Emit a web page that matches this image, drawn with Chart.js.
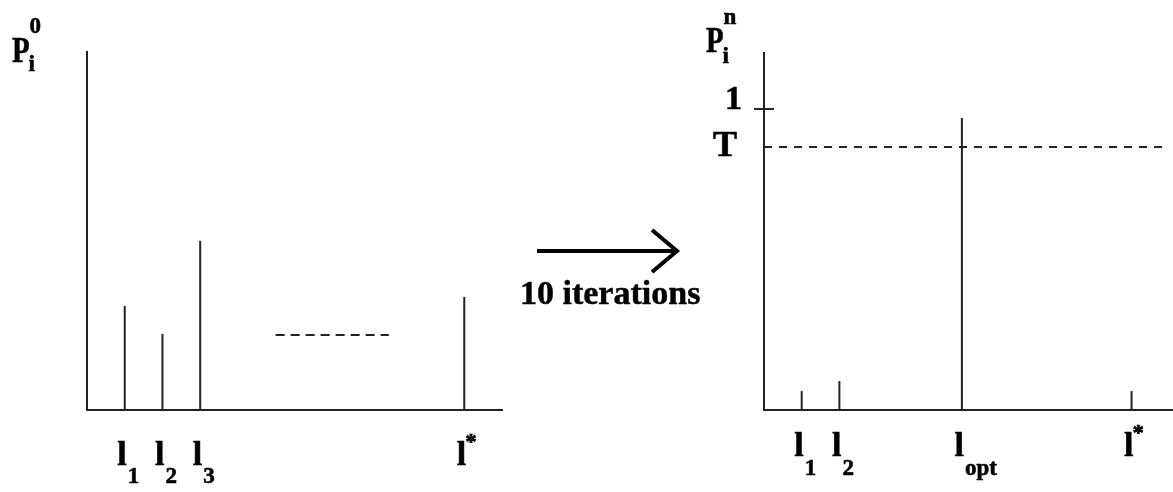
<!DOCTYPE html>
<html>
<head>
<meta charset="utf-8">
<script src="https://cdn.jsdelivr.net/npm/chart.js"></script>
<style>
  body { margin: 0; background: #fff; }
  #stage { position: relative; width: 1173px; height: 492px; overflow: hidden; }
  #stage canvas { position: absolute; left: 0; top: 0; }
  #iters { position: absolute; left: 520px; top: 276px; font: bold 34px "Liberation Serif", serif; line-height: 1; white-space: nowrap; color: #000; -webkit-text-stroke: 0.5px #000; }
  #arrow { position: absolute; left: 0; top: 0; }
</style>
</head>
<body>
<div id="stage">
  <canvas id="before" width="1173" height="492"></canvas>
  <canvas id="after" width="1173" height="492"></canvas>
  <svg id="arrow" width="1173" height="492">
    <line x1="537" y1="251" x2="676" y2="251" stroke="#000" stroke-width="4"/>
    <polyline points="652,230 677,251 652,272" fill="none" stroke="#000" stroke-width="4"/>
  </svg>
  <div id="iters">10 iterations</div>
</div>
<script>
// initial probabilities P_i^0
const leftPos = [1, 2, 3, 10];
const leftP = [0.349, 0.255, 0.567, 0.379];
const leftSub = ['1', '2', '3', ''];
const leftSup = ['', '', '', '*'];
const leftDots = [5, 8];
const leftDotsY = 0.251;

// probabilities after n iterations P_i^n
const rightPos = [1, 2, 5.25, 9.75];
const rightP = [0.063, 0.096, 0.97, 0.063];
const rightSub = ['1', '2', 'opt', ''];
const rightSup = ['', '', '', '*'];
const threshold = 0.874;
const thresholdEnd = 10.64;

const ink = '#222';
const mainFont = 'bold 34px "Liberation Serif", serif';
const bigFont = 'bold 36px "Liberation Serif", serif';
const subFont = 'bold 23px "Liberation Serif", serif';

// filled + thin outline so the bold text reads heavier
function heavyText(ctx, s, x, y) {
  ctx.fillText(s, x, y);
  ctx.strokeText(s, x, y);
}

function stems(pos, vals) {
  return pos.map((p, i) => ({
    data: [{x: p, y: 0}, {x: p, y: vals[i]}],
    showLine: true, borderColor: ink, borderWidth: 2, pointRadius: 0
  }));
}

function axes(xMax, yMax) {
  const ax = (max) => ({
    type: 'linear', min: 0, max: max,
    grid: {display: false, drawTicks: false},
    ticks: {display: false},
    border: {display: true, color: ink, width: 2}
  });
  return {x: ax(xMax), y: ax(yMax)};
}

// "l" with subscript / superscript under each stem
function stemLabels(pos, subs, sups, baseY, subY) {
  return {
    id: 'stemLabels',
    afterDraw(chart) {
      const ctx = chart.ctx;
      const xs = chart.scales.x;
      ctx.save();
      ctx.fillStyle = '#000';
      ctx.strokeStyle = '#000';
      ctx.lineWidth = 0.6;
      pos.forEach((p, i) => {
        const px = xs.getPixelForValue(p);
        ctx.font = mainFont;
        ctx.textAlign = 'right';
        heavyText(ctx, 'l', px + 2, baseY);
        ctx.textAlign = 'left';
        ctx.font = subFont;
        if (subs[i]) heavyText(ctx, subs[i], px + 3, subY);
        if (sups[i]) heavyText(ctx, sups[i], px + 1, baseY - 16);
      });
      ctx.restore();
    }
  };
}

function yLabel(x, baseY, iY, supY, sup) {
  return {
    id: 'yLabel',
    afterDraw(chart) {
      const ctx = chart.ctx;
      ctx.save();
      ctx.fillStyle = '#000';
      ctx.strokeStyle = '#000';
      ctx.lineWidth = 0.6;
      ctx.textAlign = 'left';
      ctx.font = bigFont;
      ctx.save();
      ctx.translate(x, baseY);
      ctx.scale(0.8, 1);
      heavyText(ctx, 'P', 0, 0);
      const w = ctx.measureText('P').width * 0.8;
      ctx.restore();
      ctx.font = subFont;
      heavyText(ctx, 'i', x + w - 1, iY);
      heavyText(ctx, sup, x + w, supY);
      ctx.restore();
    }
  };
}

// marker for 1 and the threshold T on the right axis
const unitTick = {
  id: 'unitTick',
  afterDraw(chart) {
    const ctx = chart.ctx;
    const y1 = chart.scales.y.getPixelForValue(1);
    const yT = chart.scales.y.getPixelForValue(threshold);
    const x0 = chart.chartArea.left;
    ctx.save();
    ctx.strokeStyle = ink;
    ctx.lineWidth = 2;
    ctx.beginPath();
    ctx.moveTo(x0 - 10, y1);
    ctx.lineTo(x0 + 10, y1);
    ctx.stroke();
    ctx.fillStyle = '#000';
    ctx.strokeStyle = '#000';
    ctx.lineWidth = 0.6;
    ctx.font = mainFont;
    ctx.textAlign = 'right';
    heavyText(ctx, '1', x0 - 22, y1);
    ctx.font = bigFont;
    heavyText(ctx, 'T', x0 - 27, yT + 9);
    ctx.restore();
  }
};

const common = {
  responsive: false, animation: false, events: [],
  plugins: {legend: {display: false}, tooltip: {enabled: false}}
};

function draw() {
  new Chart('before', {
    type: 'scatter',
    data: {
      datasets: stems(leftPos, leftP).concat([{
        data: leftDots.map(x => ({x: x, y: leftDotsY})),
        showLine: true, borderColor: ink, borderWidth: 2, borderDash: [9, 6], pointRadius: 0
      }])
    },
    options: Object.assign({}, common, {
      layout: {padding: {left: 87, top: 52, right: 671, bottom: 82}},
      scales: axes(11, 1.2)
    }),
    plugins: [stemLabels(leftPos, leftSub, leftSup, 465, 483), yLabel(12, 62, 71, 33, '0')]
  });

  new Chart('after', {
    type: 'scatter',
    data: {
      datasets: stems(rightPos, rightP).concat([{
        data: [{x: 0, y: threshold}, {x: thresholdEnd, y: threshold}],
        showLine: true, borderColor: ink, borderWidth: 2, borderDash: [8, 7], pointRadius: 0
      }])
    },
    options: Object.assign({}, common, {
      layout: {padding: {left: 764, top: 53, right: 0, bottom: 82}},
      scales: axes(10.85, 1.186)
    }),
    plugins: [stemLabels(rightPos, rightSub, rightSup, 456, 475), yLabel(706, 52, 63, 24, 'n'), unitTick]
  });
}

// make sure the serif face is ready before the canvas text goes down
Promise.all([document.fonts.load(mainFont), document.fonts.load(subFont)])
  .then(draw, draw);
</script>
</body>
</html>
